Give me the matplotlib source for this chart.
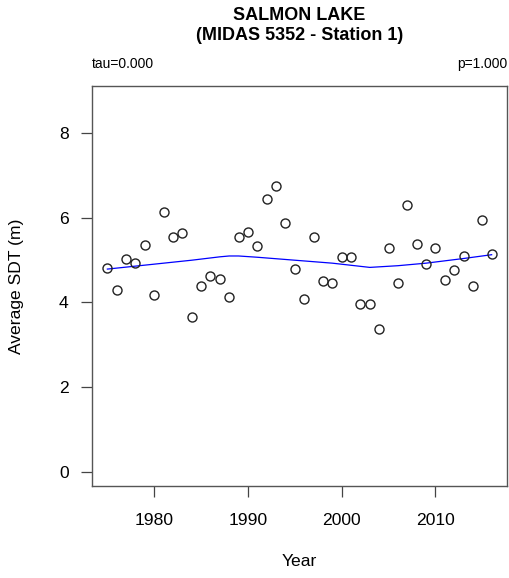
import matplotlib
matplotlib.use("Agg")
import matplotlib.pyplot as plt

plt.rcParams["font.family"] = ["Liberation Sans", "DejaVu Sans"]

# yearly average Secchi depth (m)
years = [1975, 1976, 1977, 1978, 1979, 1980, 1981, 1982, 1983, 1984,
         1985, 1986, 1987, 1988, 1989, 1990, 1991, 1992, 1993, 1994,
         1995, 1996, 1997, 1998, 1999, 2000, 2001, 2002, 2003, 2004,
         2005, 2006, 2007, 2008, 2009, 2010, 2011, 2012, 2013, 2014,
         2015, 2016]
sdt = [4.81, 4.30, 5.04, 4.94, 5.37, 4.18, 6.13, 5.56, 5.64, 3.66,
       4.40, 4.63, 4.55, 4.13, 5.54, 5.67, 5.34, 6.45, 6.75, 5.89,
       4.80, 4.08, 5.54, 4.52, 4.46, 5.08, 5.08, 3.96, 3.96, 3.37,
       5.29, 4.47, 6.31, 5.39, 4.91, 5.30, 4.54, 4.76, 5.10, 4.38,
       5.94, 5.14]

# smoothed trend line
smooth_years = [1975, 1978, 1981, 1984, 1987, 1988, 1989, 1991, 1995,
                1999, 2003, 2006, 2009, 2013, 2016]
smooth_sdt = [4.79, 4.86, 4.93, 5.00, 5.08, 5.10, 5.10, 5.07, 5.00,
              4.93, 4.83, 4.87, 4.93, 5.04, 5.13]

title1 = "SALMON LAKE"
title2 = "(MIDAS 5352 - Station 1)"
tau_txt = "tau=0.000"
p_txt = "p=1.000"

W, H = 509, 578
fig = plt.figure(figsize=(W / 100, H / 100), dpi=100)
ax = fig.add_axes([92 / W, 1 - 486 / H, (507 - 92) / W, (486 - 86) / H])

ax.plot(smooth_years, smooth_sdt, color="#0000ff", lw=0.9, zorder=2)
ax.plot(years, sdt, "o", mfc="none", mec="#222222", mew=1.0, ms=6.5, zorder=3)

ax.set_xlim(1973.36, 2017.64)
ax.set_ylim(-0.34, 9.12)
ax.set_xticks([1980, 1990, 2000, 2010])
ax.set_yticks([0, 2, 4, 6, 8])
ax.tick_params(length=7.7, width=0.9, color="#444444", labelsize=12.6)
ax.tick_params(axis="x", pad=11.5)
ax.tick_params(axis="y", pad=9)
for s in ax.spines.values():
    s.set_color("#555555")
    s.set_linewidth(1.0)

fig.text(299.5 / W, 1 - 15 / H, title1, ha="center", va="center",
         fontsize=13, fontweight="bold")
fig.text(299.5 / W, 1 - 36 / H, title2, ha="center", va="center",
         fontsize=13, fontweight="bold")
fig.text(92 / W, 1 - 64 / H, tau_txt, ha="left", va="center", fontsize=10)
fig.text(507 / W, 1 - 64 / H, p_txt, ha="right", va="center", fontsize=10)
fig.text(299.5 / W, 1 - 562 / H, "Year", ha="center", va="center", fontsize=12.6)
fig.text(17 / W, 1 - 286 / H, "Average SDT (m)", ha="center", va="center",
         rotation=90, fontsize=12.6)

fig.savefig("out.png", dpi=100)
